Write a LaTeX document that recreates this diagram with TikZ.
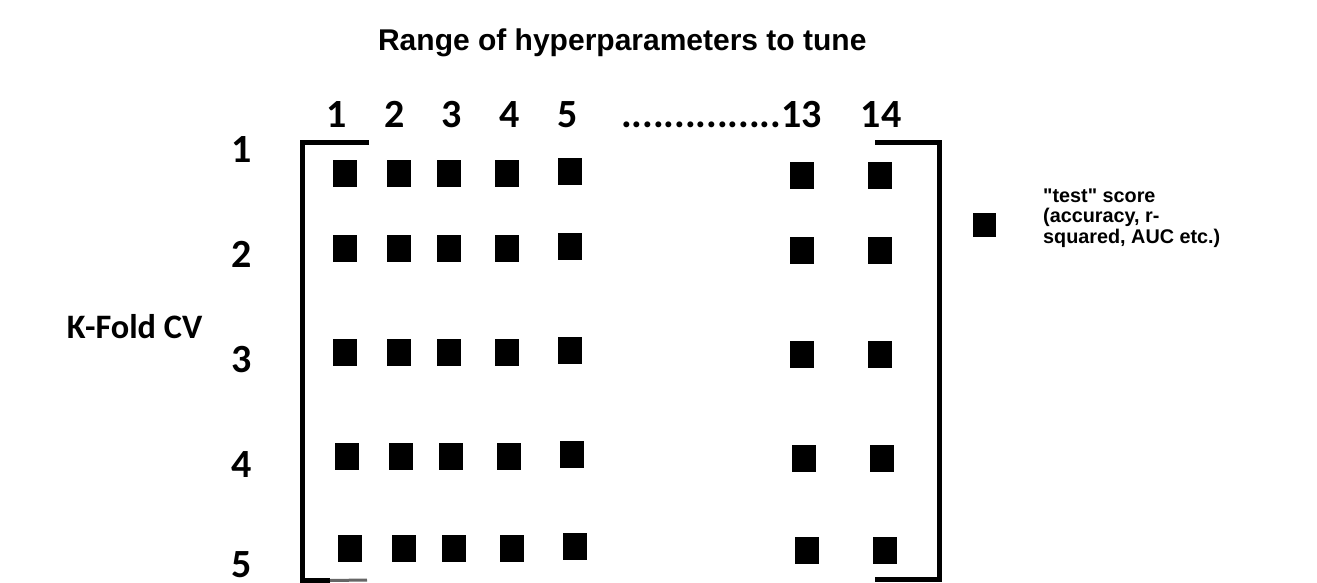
\documentclass[tikz,border=0pt]{standalone}
\usepackage{fontspec}
\setmainfont{Liberation Sans}
\newfontfamily\carl{Carlito}
\begin{document}
\begin{tikzpicture}[x=1pt,y=-1pt,
  cell/.style={fill=black,draw=none,inner sep=0pt,minimum width=24pt,minimum height=27pt},
  num/.style={inner sep=0pt,anchor=base,font=\carl\bfseries\fontsize{40}{48}\selectfont},
  bracket/.style={line width=5pt,line cap=butt,line join=miter},
  lbl/.style={inner sep=0pt}]
\useasboundingbox[fill=white] (0,0) rectangle (1317,583);
% title
\node[lbl,anchor=base,font=\bfseries\fontsize{30}{36}\selectfont] (title) at (622.3,51) {Range of hyperparameters to tune};
% column numbers
\node[num] (c1) at (337,128) {1};
\node[num] (c2) at (395,128) {2};
\node[num] (c3) at (452,128) {3};
\node[num] (c4) at (510,128) {4};
\node[num] (c5) at (568,128) {5};
\node[num,anchor=base east] (c13) at (822,128) {...............13};
\node[num] (c14) at (881,128) {14};
% row numbers
\node[num] (r1) at (242,162) {1};
\node[num] (r2) at (242,267) {2};
\node[num] (r3) at (242,372) {3};
\node[num] (r4) at (242,477) {4};
\node[num] (r5) at (242,577) {5};
\node[lbl,anchor=base west,font=\carl\bfseries\fontsize{34.3}{40}\selectfont] (kf) at (66.7,338) {K-Fold CV};
% brackets
\coordinate (lt) at (369,143);
\coordinate (ltc) at (302,143);
\coordinate (lbc) at (302,580.5);
\coordinate (lb) at (330,580.5);
\coordinate (lb2) at (367,580);
\draw[bracket] (lt) -- (ltc) -- (lbc) -- (lb);
\draw[line width=3pt,black!60] (lb) -- (lb2);
\coordinate (rt) at (875,143);
\coordinate (rtc) at (939,143);
\coordinate (rbc) at (939,579.5);
\coordinate (rb) at (875,579.5);
\draw[bracket] (rt) -- (rtc) -- (rbc) -- (rb);
% cells
\foreach \r/\y/\s in {1/173.3/0,2/248.7/0,3/352/0,4/456.3/2,5/548/5}{
  \foreach \c/\x/\dy in {1/344.7/0,2/398.7/0,3/449/0,4/506.7/0,5/570/-2,13/802.3/2,14/879.5/2}{
    \node[cell] (s\r-\c) at (\x+\s,\y+\dy) {};
  }
}
% legend
\node[inner sep=0pt,fill=black,minimum width=23pt,minimum height=24pt] (legsq) at (984.2,224.5) {};
\node[lbl,anchor=north west,align=left,font=\bfseries\fontsize{19.8}{20.8}\selectfont] (legtxt) at (1043,188.3) {\textquotedbl test\textquotedbl{} score\\(accuracy, r-\\squared, AUC etc.)};
\end{tikzpicture}
\end{document}
